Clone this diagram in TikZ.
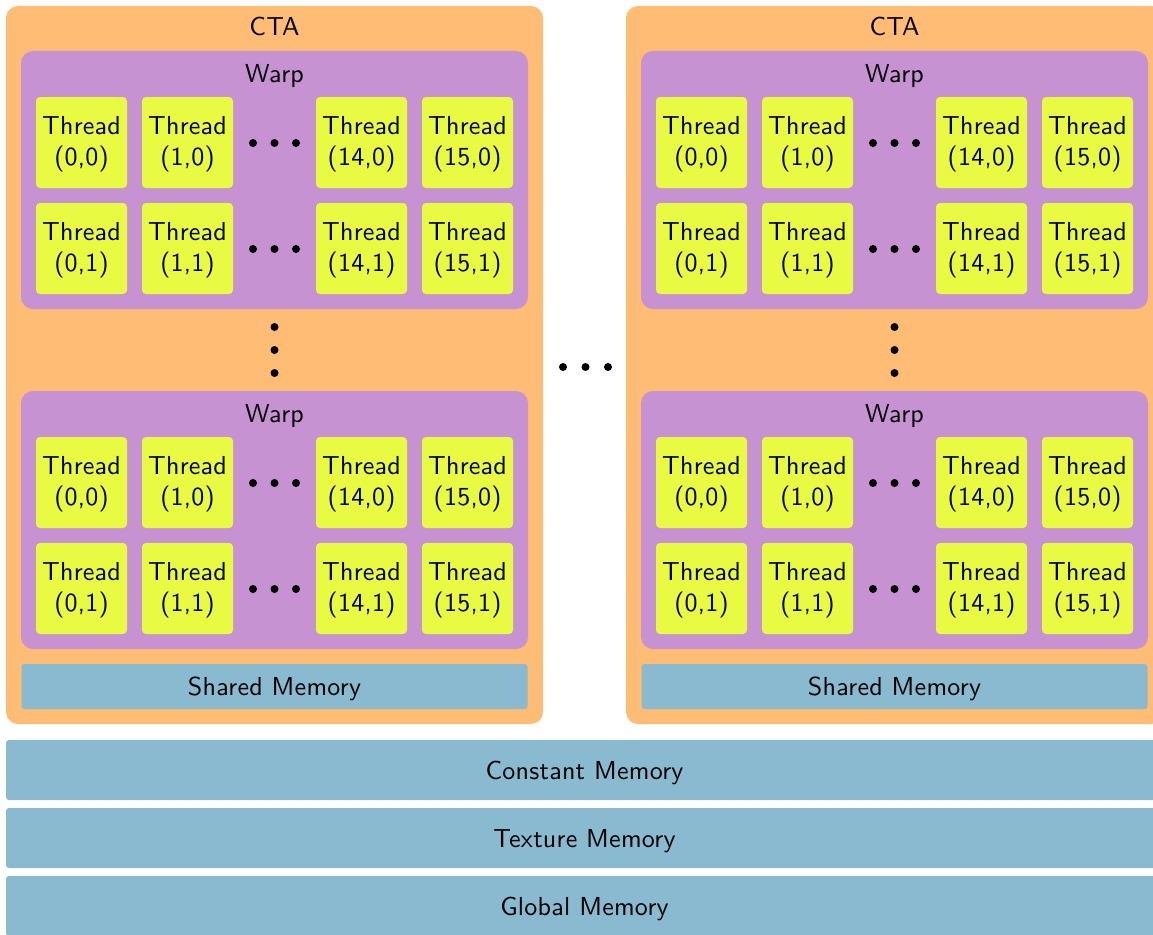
\documentclass[tikz,border=0pt]{standalone}
\usepackage{fontspec}
\newfontfamily\lblfont{lmsans10-regular}[Extension=.otf, LetterSpace=1]
\definecolor{ctaorange}{RGB}{254,188,116}
\definecolor{warppurple}{RGB}{198,146,210}
\definecolor{threadyellow}{RGB}{233,250,66}
\definecolor{memblue}{RGB}{137,186,208}
\tikzset{
  label font/.style={font=\lblfont\fontsize{26}{31}\selectfont},
  % single-line labels: the text box spans the cap height, so caps sit centred
  capcentred/.style={text height=18pt, text depth=0pt},
  ctabox/.style={fill=ctaorange, rounded corners=12pt, minimum width=537pt, minimum height=718pt, inner sep=0pt},
  warpbox/.style={fill=warppurple, rounded corners=12pt, minimum width=507pt, minimum height=258pt, inner sep=0pt},
  threadbox/.style={fill=threadyellow, rounded corners=4pt, minimum width=91pt, minimum height=91pt, inner sep=0pt},
  threadtext/.style={inner sep=0pt, align=center, label font},
  sharedbox/.style={fill=memblue, rounded corners=3pt, minimum width=506pt, minimum height=45pt, inner sep=0pt, label font, capcentred},
  membar/.style={fill=memblue, rounded corners=3pt, minimum width=1157pt, minimum height=60pt, inner sep=0pt, label font, capcentred},
  title/.style={inner sep=0pt, label font, anchor=base},
  dot/.style={circle, fill=black, minimum size=8pt, inner sep=0pt},
}
\begin{document}
\begin{tikzpicture}[x=1pt, y=-1pt]
  \useasboundingbox (0,0) rectangle (1153,934);
  \clip (0,0) rectangle (1153,934);
  % two CTAs, side by side
  \foreach \ox/\s in {0/L, 620/R} {
    \node[ctabox] (cta-\s) at (\ox+274.5, 365) {};
    \node[title] (cta-title-\s) at (\ox+274.5, 36) {CTA};
    % two warps per CTA
    \foreach \oy/\w in {0/1, 340/2} {
      \node[warpbox] (warp-\s-\w) at (\ox+274.5, \oy+180) {};
      \node[title] (warp-title-\s-\w) at (\ox+274.5, \oy+82) {Warp};
      \foreach \cx/\i in {75.5/0, 181.5/1, 355.5/14, 461.5/15} {
        \foreach \cy/\j in {142.5/0, 248.5/1} {
          \node[threadbox] (thr-\s-\w-\i-\j) at (\ox+6+\cx, \oy+\cy) {};
          \node[threadtext] (thr-text-\s-\w-\i-\j) at ([yshift=-1.25pt]thr-\s-\w-\i-\j.center) {Thread\\(\i,\j)};
        }
      }
      % ellipsis between thread columns
      \foreach \cy/\j in {143/0, 249/1} {
        \node[dot] (hd-\s-\w-\j-a) at (\ox+253, \oy+\cy) {};
        \node[dot] (hd-\s-\w-\j-b) at (\ox+274.5, \oy+\cy) {};
        \node[dot] (hd-\s-\w-\j-c) at (\ox+296, \oy+\cy) {};
      }
    }
    % ellipsis between warps
    \node[dot] (vd-\s-a) at (\ox+274.5, 327) {};
    \node[dot] (vd-\s-b) at (\ox+274.5, 350) {};
    \node[dot] (vd-\s-c) at (\ox+274.5, 373) {};
    \node[sharedbox] (shared-\s) at (\ox+274.5, 686.5) {Shared Memory};
  }
  % ellipsis between CTAs
  \node[dot] (md-a) at (563, 367) {};
  \node[dot] (md-b) at (585.5, 367) {};
  \node[dot] (md-c) at (608, 367) {};
  % device-wide memories
  \node[membar] (constmem) at (584.5, 770) {Constant Memory};
  \node[membar] (texmem) at (584.5, 838) {Texture Memory};
  \node[membar] (globalmem) at (584.5, 906) {Global Memory};
\end{tikzpicture}
\end{document}
